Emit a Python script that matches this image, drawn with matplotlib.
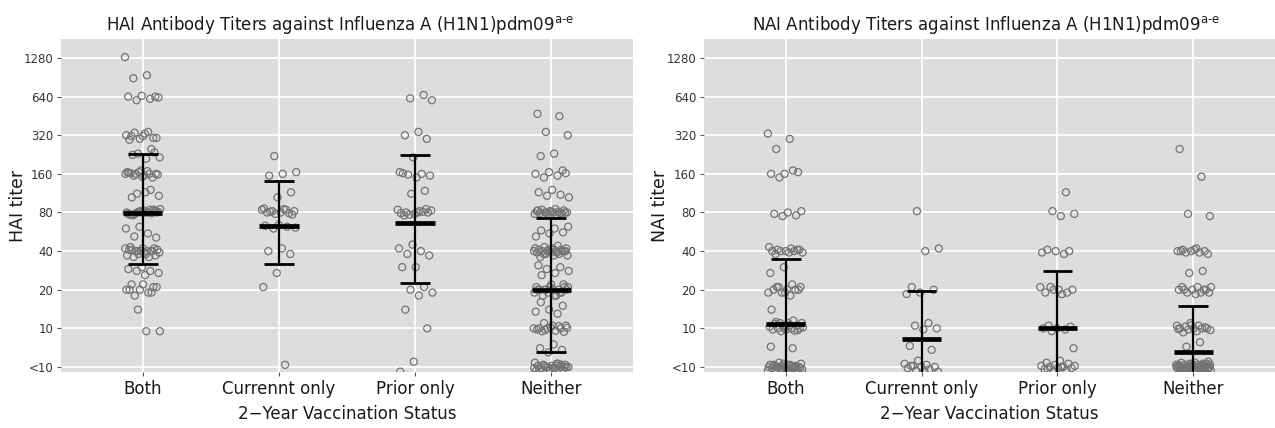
import matplotlib
matplotlib.use('Agg')
import matplotlib.pyplot as plt
import numpy as np

plt.rcParams['font.family'] = ['DejaVu Sans']
plt.rcParams['mathtext.fontset'] = 'dejavusans'

# ---------------- data ----------------
categories = ["Both", "Currennt only", "Prior only", "Neither"]
ytick_vals = [5, 10, 20, 40, 80, 160, 320, 640, 1280]
ytick_labels = ["<10", "10", "20", "40", "80", "160", "320", "640", "1280"]

# HAI titers (value 5 represents "<10")
hai_both = [1300, 940, 890,
            640, 650, 640, 615, 600, 630,
            330, 315, 305, 300, 320, 340, 335, 305, 315, 295,
            250, 230, 215, 210, 225, 235,
            170, 165, 160, 160, 158, 155, 162, 150, 165, 160, 168, 155, 160, 152, 163,
            120, 112, 108, 115, 105,
            84, 82, 80, 80, 78, 80, 83, 77, 79, 81, 85, 80, 76, 82, 80, 78, 84, 79, 81, 80, 77, 83,
            62, 60, 55, 52, 51,
            42, 41, 40, 40, 39, 38, 41, 42, 40, 37, 36, 40, 41, 39, 43, 40, 38, 42, 40, 36, 37,
            30, 29, 28, 28, 27, 26,
            22, 21, 20, 20, 19, 18, 21, 22, 20, 19,
            14, 9.5, 9.5]
hai_current = [220, 165, 160, 155,
               115, 105,
               86, 84, 82, 82, 80, 80, 79, 78, 84, 85, 81, 77,
               64, 63, 62, 60, 61,
               42, 40, 38,
               27, 21,
               5.2]
hai_prior = [660, 620, 600,
             340, 320, 300,
             215,
             165, 160, 158, 155, 150, 162,
             118, 112,
             84, 82, 80, 80, 78, 79, 81, 77, 83, 80, 76, 85,
             45, 42, 40, 38, 37,
             30, 30,
             21, 20, 19, 18,
             14, 10,
             5.5, 4.6]
hai_neither = [470, 450, 340, 320, 230, 220,
               170, 165, 160, 155, 150, 162,
               120, 115, 110, 108, 105,
               85, 84, 83, 82, 82, 81, 80, 80, 80, 79, 79, 78, 78, 77, 76, 80, 81, 83, 79, 80,
               62, 60, 58, 56, 55, 52,
               44, 43, 42, 42, 41, 41, 40, 40, 40, 40, 40, 39, 39, 38, 38, 37, 37, 36, 40, 41, 42, 39, 38, 40, 41,
               31, 30, 29, 28, 27, 26,
               22, 21, 21, 20, 20, 20, 20, 20, 19, 19, 19, 18, 18, 21, 22, 20, 19, 20, 21, 18,
               16, 15, 14, 13.5, 13,
               11, 10.5, 10.5, 10, 10, 10, 10, 9.6, 9.5, 9.4, 10.2, 9.8, 10.4, 9.7, 10.1,
               7.5, 7, 6.8, 6.5,
               5.4, 5.3, 5.2, 5.2, 5.1, 5.1, 5.0, 5.0, 5.0, 4.9, 4.9, 4.8, 4.8, 4.7, 5.3, 5.1,
               5.0, 4.9, 4.8, 5.2, 5.0, 4.9, 5.1, 4.7, 5.0]

# NAI titers
nai_both = [330, 300, 250,
            165, 160, 160, 170, 150,
            82, 80, 78, 76, 75,
            43, 42, 41, 41, 40, 40, 40, 40, 39, 39, 38, 41,
            30, 27,
            22, 21, 21, 20, 20, 20, 19, 19, 18, 21, 20, 19,
            14,
            11.5, 11, 11, 11, 10.8, 10.5, 10.5, 10.3, 10, 10, 10, 9.8, 9.8, 9.6, 9.5, 10.2, 10.6, 11.2, 9.7, 10,
            7.2, 7.0,
            5.4, 5.3, 5.2, 5.2, 5.1, 5.1, 5.0, 5.0, 5.0, 5.0, 4.9, 4.9, 4.9, 4.8, 4.8, 4.8, 4.7, 4.7,
            5.3, 5.2, 5.1, 5.0, 4.9, 4.8, 5.1, 5.0, 4.9, 4.7, 5.2, 5.0]
nai_current = [82, 42, 40,
               21, 20, 19, 18.5,
               11, 10.5, 10, 9.8,
               7.3, 6.8,
               5.6, 5.3, 5.2, 5.1, 5.0, 5.0, 4.9, 4.8, 4.7, 4.6, 4.6, 5.1]
nai_prior = [115, 82, 78, 75,
             41, 40, 40, 39, 38,
             21, 20, 20, 19, 19, 20, 21, 18.5,
             10.5, 10.3, 10, 10, 9.8, 9.5,
             7.0,
             5.6, 5.4, 5.3, 5.2, 5.1, 5.0, 5.0, 4.9, 4.9, 4.8, 4.7, 4.6, 5.1, 5.0, 4.8]
nai_neither = [250, 152, 78, 75,
               42, 41, 40, 40, 40, 39, 39, 38, 41, 40,
               28, 27,
               21, 21, 20, 20, 20, 20, 19, 19, 19, 18.5, 21, 20,
               11, 10.5, 10.5, 10.3, 10, 10, 10, 10, 9.8, 9.7, 9.5, 9.3, 10.2, 10.6, 9.9,
               7.8, 7.2,
               5.5, 5.4, 5.4, 5.3, 5.3, 5.2, 5.2, 5.2, 5.1, 5.1, 5.1, 5.0, 5.0, 5.0, 5.0, 5.0,
               4.9, 4.9, 4.9, 4.9, 4.8, 4.8, 4.8, 4.8, 4.7, 4.7, 4.7, 4.6, 4.6, 4.6,
               5.3, 5.2, 5.1, 5.0, 4.9, 4.8, 4.7, 5.2, 5.1, 5.0, 4.9, 4.8, 5.3, 5.1, 4.9,
               5.0, 4.8, 5.2, 4.7, 5.0]

# summary bars: centre, lower, upper
hai_mid = [79, 63, 66, 20]
hai_low = [32, 32, 22.5, 6.5]
hai_high = [228, 142, 226, 73]
nai_mid = [10.9, 8.2, 10.1, 6.6]
nai_low = [3, 3, 3, 3]          # below the visible range
nai_high = [34.6, 19.5, 28.1, 14.9]

# ---------------- drawing ----------------
W, H = 1275, 428
fig = plt.figure(figsize=(W / 100, H / 100), dpi=100)
fig.patch.set_facecolor('white')

panels = [
    dict(rect=[61 / W, 56 / H, 572 / W, 333 / H],
         groups=[hai_both, hai_current, hai_prior, hai_neither],
         mid=hai_mid, low=hai_low, high=hai_high,
         title="HAI Antibody Titers against Influenza A (H1N1)pdm09$^{\\mathrm{a\\text{-}e}}$",
         title_x=340, ylabel="HAI titer", ylab_x=18),
    dict(rect=[704 / W, 56 / H, 571 / W, 333 / H],
         groups=[nai_both, nai_current, nai_prior, nai_neither],
         mid=nai_mid, low=nai_low, high=nai_high,
         title="NAI Antibody Titers against Influenza A (H1N1)pdm09$^{\\mathrm{a\\text{-}e}}$",
         title_x=986, ylabel="NAI titer", ylab_x=660),
]

golden = 0.6180339887
jit_w = 0.13

for p in panels:
    ax = fig.add_axes(p['rect'])
    ax.set_facecolor('#DDDDDD')
    ax.set_yscale('log', base=2)
    ax.set_ylim(4.57, 1800)
    ax.set_xlim(0.4, 4.6)
    xpos = np.arange(1, len(categories) + 1)
    ax.set_xticks(xpos)
    ax.set_xticklabels(categories, fontsize=12, color='#1A1A1A')
    ax.set_yticks(ytick_vals)
    ax.set_yticklabels(ytick_labels, fontsize=8.5, color='#333333')
    ax.minorticks_off()
    ax.grid(True, which='major', color='white', lw=1.3)
    ax.set_axisbelow(True)
    for s in ax.spines.values():
        s.set_visible(False)
    ax.tick_params(axis='both', length=3, width=0.8, color='#555555', pad=2.5)

    for gi, vals in enumerate(p['groups']):
        vals = np.asarray(vals, dtype=float)
        idx = np.arange(len(vals))
        offs = ((idx * golden + 0.37 * gi) % 1.0 - 0.5) * 2 * jit_w
        ax.scatter(xpos[gi] + offs, vals, s=26, facecolors='none',
                   edgecolors='#737373', linewidths=0.9, zorder=3)

    for gi in range(len(categories)):
        x = xpos[gi]
        ax.plot([x, x], [p['low'][gi], p['high'][gi]], color='black', lw=1.6,
                zorder=4, solid_capstyle='butt')
        ax.plot([x - 0.11, x + 0.11], [p['high'][gi]] * 2, color='black', lw=2.0,
                zorder=4, solid_capstyle='butt')
        ax.plot([x - 0.11, x + 0.11], [p['low'][gi]] * 2, color='black', lw=2.0,
                zorder=4, solid_capstyle='butt')
        ax.plot([x - 0.145, x + 0.145], [p['mid'][gi]] * 2, color='black', lw=3.4,
                zorder=5, solid_capstyle='butt')

    fig.text(p['title_x'] / W, (428 - 30) / H, p['title'], ha='center',
             va='baseline', fontsize=12, color='#1A1A1A')
    cx = (p['rect'][0] + p['rect'][2] / 2)
    fig.text(cx, 14 / H, "2\u2212Year Vaccination Status", ha='center',
             va='center', fontsize=12, color='#1A1A1A')
    fig.text(p['ylab_x'] / W, (56 + 333 / 2) / H, p['ylabel'], rotation=90,
             ha='center', va='center', fontsize=12.5, color='#1A1A1A')

fig.savefig('out.png', dpi=100)
